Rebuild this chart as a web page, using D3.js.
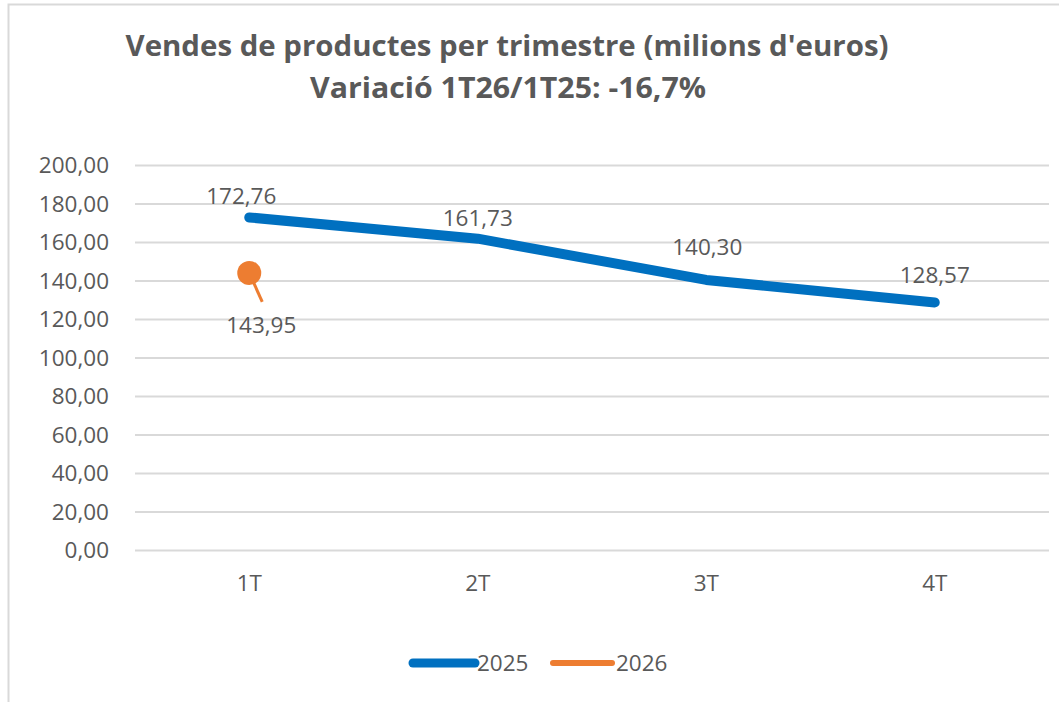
<!DOCTYPE html>
<html>
<head>
<meta charset="utf-8">
<script src="https://cdn.jsdelivr.net/npm/d3@7"></script>
<style>
  body { margin: 0; background: #fff; }
  text { font-family: "Open Sans", "Noto Sans", sans-serif; fill: #595959; }
</style>
</head>
<body>
<div id="chart"></div>
<script>
// chart data
var quarters = ["1T", "2T", "3T", "4T"];
var sales2025 = [172.76, 161.73, 140.30, 128.57];
var sales2026 = [143.95];
var yTicks = [0, 20, 40, 60, 80, 100, 120, 140, 160, 180, 200];
var titleLines = ["Vendes de productes per trimestre (milions d'euros)", "Variació 1T26/1T25: -16,7%"];
var seriesNames = ["2025", "2026"];

var W = 1059, H = 702;
var margin = { top: 165, right: 10, bottom: 152, left: 135 };
var width = W - margin.left - margin.right;
var height = H - margin.top - margin.bottom;
var blue = "#0070c0", orange = "#ed7d31";
var fs = 22.5;
var fmt = function (v) { return d3.format(".2f")(v).replace(".", ","); };

var svg = d3.select("#chart").append("svg")
    .attr("width", W)
    .attr("height", H);

// outer frame
svg.append("path")
    .attr("d", "M8.5,702 V4.5 H1059")
    .attr("fill", "none")
    .attr("stroke", "#d9d9d9")
    .attr("stroke-width", 2);

// title
svg.selectAll(".title")
    .data(titleLines)
    .enter().append("text")
    .attr("class", "title")
    .attr("x", function (d, i) { return i == 0 ? 507 : 508; })
    .attr("y", function (d, i) { return 56 + i * 42; })
    .attr("text-anchor", "middle")
    .attr("font-size", 29)
    .attr("font-weight", "bold")
    .attr("textLength", function (d, i) { return i == 0 ? 763 : 396; })
    .attr("lengthAdjust", "spacingAndGlyphs")
    .text(function (d) { return d; });

var g = svg.append("g")
    .attr("transform", "translate(" + margin.left + "," + margin.top + ")");

var x = d3.scaleBand().domain(quarters).range([0, width]);
var y = d3.scaleLinear().domain([0, 200]).range([height, 0]);
var cx = function (q) { return x(q) + x.bandwidth() / 2; };

// gridlines + y labels
var yAxis = g.append("g")
    .call(d3.axisLeft(y).tickValues(yTicks).tickSize(-width).tickFormat(fmt).tickPadding(26));
yAxis.select(".domain").remove();
yAxis.selectAll(".tick line").attr("stroke", "#d9d9d9").attr("stroke-width", 2);
yAxis.selectAll(".tick text")
    .attr("font-size", fs)
    .attr("font-family", "'Open Sans', sans-serif")
    .attr("fill", "#595959")
    .attr("dy", "0.35em");

// x labels
var xAxis = g.append("g")
    .attr("transform", "translate(0," + height + ")")
    .call(d3.axisBottom(x).tickSize(0).tickPadding(25));
xAxis.select(".domain").remove();
xAxis.selectAll(".tick text")
    .attr("font-size", fs)
    .attr("font-family", "'Open Sans', sans-serif")
    .attr("fill", "#595959");

// 2025 line
var line = d3.line()
    .x(function (d, i) { return cx(quarters[i]); })
    .y(function (d) { return y(d); });

g.append("path")
    .datum(sales2025)
    .attr("d", line)
    .attr("fill", "none")
    .attr("stroke", blue)
    .attr("stroke-width", 10)
    .attr("stroke-linecap", "round")
    .attr("stroke-linejoin", "round");

var labelDx = [-8, 0, 1, 0];
var labelDy = [-13, -13, -25, -20];
g.selectAll(".lbl2025")
    .data(sales2025)
    .enter().append("text")
    .attr("class", "lbl2025")
    .attr("x", function (d, i) { return cx(quarters[i]) + labelDx[i]; })
    .attr("y", function (d, i) { return y(d) + labelDy[i]; })
    .attr("text-anchor", "middle")
    .attr("font-size", fs)
    .text(fmt);

// 2026 point with leader line
sales2026.forEach(function (v, i) {
    var px = cx(quarters[i]), py = y(v);
    g.append("line")
        .attr("x1", px).attr("y1", py)
        .attr("x2", px + 13).attr("y2", py + 29)
        .attr("stroke", orange)
        .attr("stroke-width", 3);
    g.append("circle")
        .attr("cx", px).attr("cy", py)
        .attr("r", 12)
        .attr("fill", orange);
    g.append("text")
        .attr("x", px + 12)
        .attr("y", py + 60)
        .attr("text-anchor", "middle")
        .attr("font-size", fs)
        .text(fmt(v));
});

// legend
var legend = svg.append("g").attr("transform", "translate(0,663)");
var legendItems = [
    { name: seriesNames[0], color: blue, x: 413, w: 62, sw: 9, tx: 477 },
    { name: seriesNames[1], color: orange, x: 553, w: 59, sw: 6, tx: 616 }
];
legendItems.forEach(function (d) {
    legend.append("line")
        .attr("x1", d.x).attr("x2", d.x + d.w)
        .attr("y1", 0).attr("y2", 0)
        .attr("stroke", d.color)
        .attr("stroke-width", d.sw)
        .attr("stroke-linecap", "round");
    legend.append("text")
        .attr("x", d.tx)
        .attr("y", 0)
        .attr("dy", "0.35em")
        .attr("font-size", fs)
        .text(d.name);
});
</script>
</body>
</html>
